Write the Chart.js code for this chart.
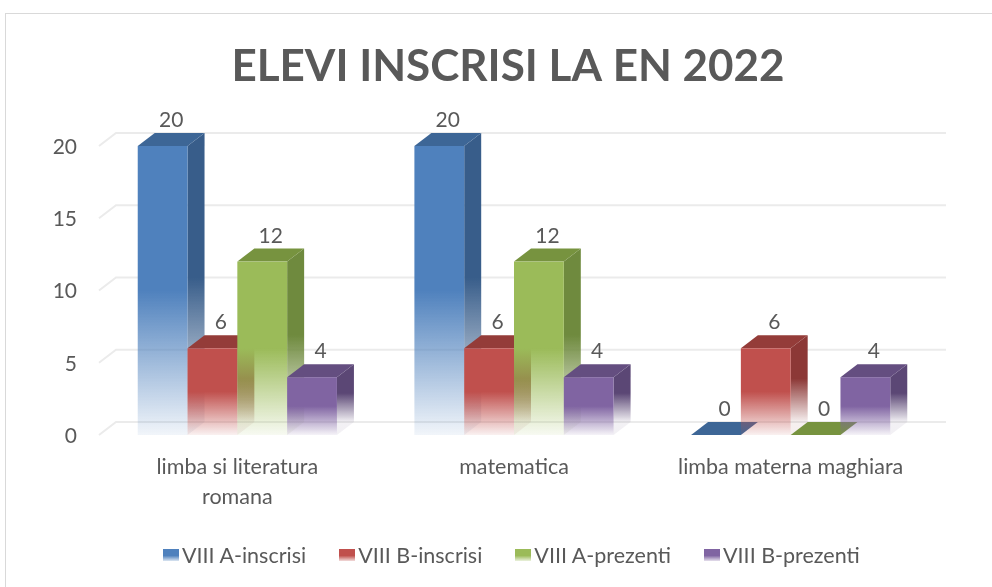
<!DOCTYPE html>
<html>
<head>
<meta charset="utf-8">
<script src="https://cdn.jsdelivr.net/npm/chart.js@4.4.1/dist/chart.umd.min.js"></script>
<style>
    body { margin: 0; background: #fff; font-family: Lato, "Open Sans", sans-serif; }
    #frame { position: absolute; left: 5px; top: 13px; width: 1100px; height: 700px; border: 1.5px solid #D9D9D9; }
    #chart { position: absolute; left: 0; top: 0; }
    #legend { position: absolute; left: 163px; top: 543px; display: flex; gap: 33px; color: #595959; font-size: 21.5px; line-height: 24px; }
    #legend .item { display: flex; align-items: center; }
    #legend .box { width: 16px; height: 12px; margin-right: 3px; }
</style>
</head>
<body>
<div id="frame"></div>
<canvas id="chart" width="992" height="587"></canvas>
<div id="legend"></div>

<script>
const categories = [["limba si literatura", "romana"], "matematica", "limba materna maghiara"];
const seriesNames = ["VIII A-inscrisi", "VIII B-inscrisi", "VIII A-prezenti", "VIII B-prezenti"];
const inscrisiA = [20, 20, 0];
const inscrisiB = [6, 6, 6];
const prezentiA = [12, 12, 0];
const prezentiB = [4, 4, 4];
const yTicks = [0, 5, 10, 15, 20];

// front, side, top shades for each series
const palette = [
    { front: "#4F81BD", side: "#385D8A", top: "#3D6696" },
    { front: "#C0504D", side: "#8C3836", top: "#943C39" },
    { front: "#9BBB59", side: "#6F8A3E", top: "#77933F" },
    { front: "#8064A2", side: "#5B4775", top: "#644E80" }
];

const DEPTH_X = 17;
const DEPTH_Y = -13;
const TEXT = "#595959";
const FONT = "Lato, 'Open Sans', sans-serif";

function fade(ctx, hex, top, base) {
    const g = ctx.createLinearGradient(0, top, 0, base);
    g.addColorStop(0, hex);
    g.addColorStop(0.5, hex);
    g.addColorStop(1, hex + "14");
    return g;
}

/* ------------------- 3D walls + bars ------------------ */

const wallPlugin = {
    id: "wall",
    beforeDatasetsDraw(chart) {
        const { ctx, chartArea, scales } = chart;
        ctx.save();
        ctx.strokeStyle = "#EBEBEB";
        ctx.lineWidth = 2;
        yTicks.forEach(v => {
            const y = scales.y.getPixelForValue(v);
            ctx.beginPath();
            ctx.moveTo(chartArea.left, y);
            ctx.lineTo(chartArea.left + DEPTH_X, y + DEPTH_Y);
            ctx.lineTo(chartArea.right + DEPTH_X, y + DEPTH_Y);
            ctx.stroke();
        });

        // value axis labels, right-aligned a little left of the floor
        ctx.fillStyle = TEXT;
        ctx.font = "21px " + FONT;
        ctx.textAlign = "right";
        ctx.textBaseline = "middle";
        scales.y.ticks.forEach(t => {
            ctx.fillText(String(t.value), chartArea.left - 22, scales.y.getPixelForValue(t.value) + 1);
        });
        ctx.restore();
    }
};

const bar3dPlugin = {
    id: "bar3d",
    afterDatasetsDraw(chart) {
        const { ctx } = chart;
        ctx.save();
        for (let i = 0; i < categories.length; i++) {
            chart.data.datasets.forEach((ds, d) => {
                const el = chart.getDatasetMeta(d).data[i];
                const c = palette[d];
                const x0 = el.x - el.width / 2;
                const x1 = el.x + el.width / 2;
                const top = el.y;
                const base = el.base;

                // side
                if (base - top > 0.5) {
                    ctx.fillStyle = fade(ctx, c.side, top + DEPTH_Y, base + DEPTH_Y);
                    ctx.beginPath();
                    ctx.moveTo(x1, top);
                    ctx.lineTo(x1 + DEPTH_X, top + DEPTH_Y);
                    ctx.lineTo(x1 + DEPTH_X, base + DEPTH_Y);
                    ctx.lineTo(x1, base);
                    ctx.closePath();
                    ctx.fill();
                }
                // top
                ctx.fillStyle = c.top;
                ctx.beginPath();
                ctx.moveTo(x0, top);
                ctx.lineTo(x1, top);
                ctx.lineTo(x1 + DEPTH_X, top + DEPTH_Y);
                ctx.lineTo(x0 + DEPTH_X, top + DEPTH_Y);
                ctx.closePath();
                ctx.fill();
                // front
                if (base - top > 0.5) {
                    ctx.fillStyle = fade(ctx, c.front, top, base);
                    ctx.fillRect(x0, top, x1 - x0, base - top);
                }
                // value label
                ctx.fillStyle = TEXT;
                ctx.font = "21px " + FONT;
                ctx.textAlign = "center";
                ctx.textBaseline = "alphabetic";
                ctx.fillText(String(ds.data[i]), el.x + DEPTH_X / 2, top + DEPTH_Y - 6);
            });
        }
        ctx.restore();
    }
};

/* ------------------- Chart ------------------ */

const seriesData = [inscrisiA, inscrisiB, prezentiA, prezentiB];

new Chart(document.getElementById("chart"), {
    type: "bar",
    data: {
        labels: categories,
        datasets: seriesData.map((values, d) => ({
            label: seriesNames[d],
            data: values,
            backgroundColor: "rgba(0,0,0,0)",
            borderWidth: 0,
            categoryPercentage: 0.72,
            barPercentage: 1
        }))
    },
    options: {
        responsive: false,
        animation: false,
        devicePixelRatio: 1,
        layout: { padding: { top: 13, right: 0, bottom: 0, left: 24 } },
        plugins: {
            legend: { display: false },
            tooltip: { enabled: false },
            title: {
                display: true,
                text: "ELEVI INSCRISI LA EN 2022",
                color: TEXT,
                font: { family: FONT, size: 44, weight: "bold", lineHeight: 1.2 },
                padding: { top: 27.6, bottom: 52.6 }
            }
        },
        scales: {
            x: {
                grid: { display: false, drawTicks: false },
                border: { display: false },
                ticks: {
                    color: TEXT,
                    font: { family: FONT, size: 21.5, lineHeight: 1.4 },
                    padding: 17,
                    maxRotation: 0,
                    autoSkip: false
                },
                afterFit(scale) { scale.height = 152; }
            },
            y: {
                min: 0,
                max: 20,
                grid: { display: false, drawTicks: false },
                border: { display: false },
                ticks: { stepSize: 5, display: false },
                afterFit(scale) { scale.width = 75; }
            },
            // empty right-hand spacer so the plot ends where the reference does
            spacer: {
                type: "linear",
                position: "right",
                grid: { display: false, drawTicks: false },
                border: { display: false },
                ticks: { display: false },
                afterFit(scale) { scale.width = 63; }
            }
        }
    },
    plugins: [wallPlugin, bar3dPlugin]
});

/* ------------------- Legend ------------------ */

const legendEl = document.getElementById("legend");
seriesNames.forEach((name, d) => {
    const item = document.createElement("div");
    item.className = "item";
    const box = document.createElement("span");
    box.className = "box";
    box.style.background = `linear-gradient(${palette[d].front} 55%, ${palette[d].front}33)`;
    item.appendChild(box);
    item.appendChild(document.createTextNode(name));
    legendEl.appendChild(item);
});
</script>
</body>
</html>
